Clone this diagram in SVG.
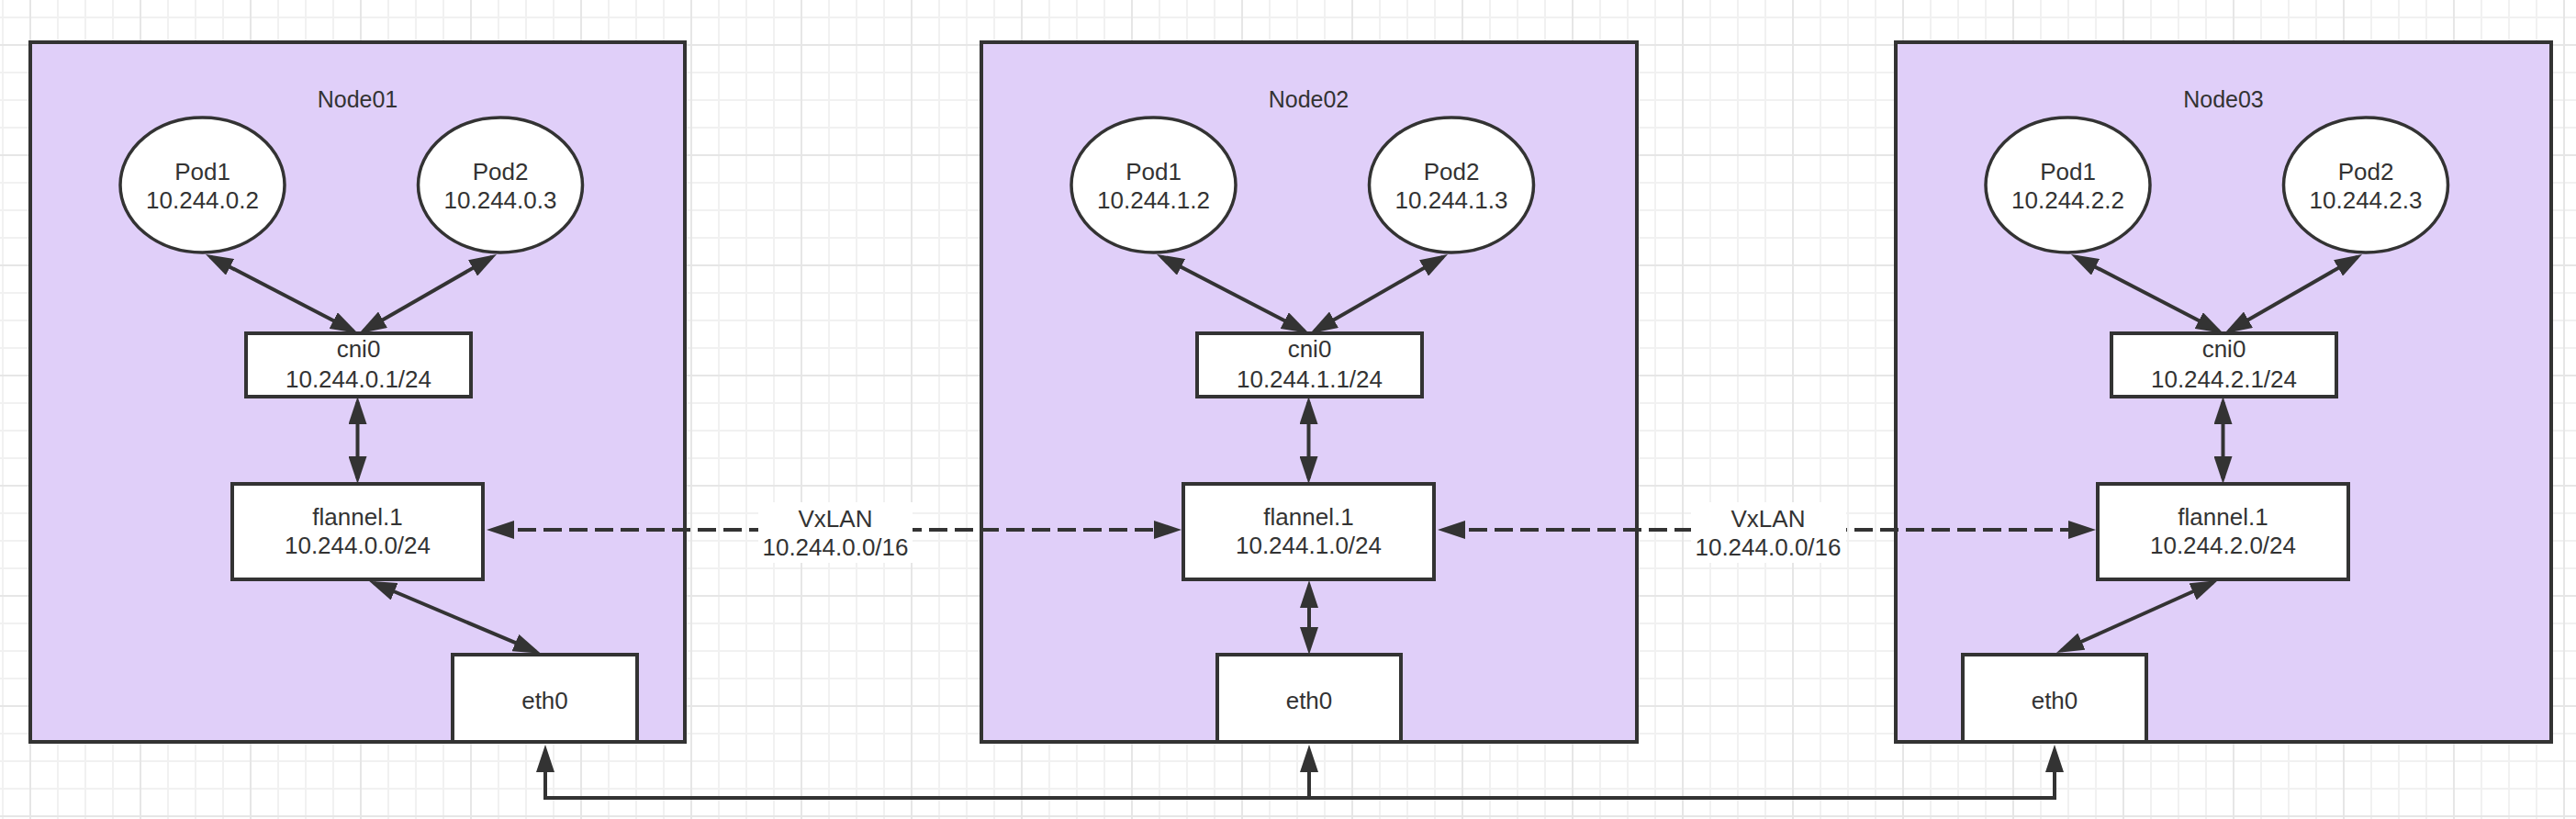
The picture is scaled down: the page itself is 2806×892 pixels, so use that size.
<svg xmlns="http://www.w3.org/2000/svg" width="2806" height="892" viewBox="0 0 2806 892">
  <defs>
    <pattern id="grid" patternUnits="userSpaceOnUse" x="32" y="48" width="120" height="120">
      <rect x="30" y="0" width="2" height="120" fill="#f1f1f1"/>
      <rect x="60" y="0" width="2" height="120" fill="#f1f1f1"/>
      <rect x="90" y="0" width="2" height="120" fill="#f1f1f1"/>
      <rect x="0" y="30" width="120" height="2" fill="#f1f1f1"/>
      <rect x="0" y="60" width="120" height="2" fill="#f1f1f1"/>
      <rect x="0" y="90" width="120" height="2" fill="#f1f1f1"/>
      <rect x="0" y="0" width="2" height="120" fill="#e6e6e6"/>
      <rect x="0" y="0" width="120" height="2" fill="#e6e6e6"/>
    </pattern>
    <marker id="arr" viewBox="0 0 30 20" markerWidth="30" markerHeight="20" markerUnits="userSpaceOnUse" refX="24" refY="10" orient="auto-start-reverse">
      <path d="M0,0 L30,10 L0,20 Z" fill="#333"/>
    </marker>
    <style>
      .node { fill: #e0cff9; stroke: #333; stroke-width: 4; }
      .box { fill: #fff; stroke: #333; stroke-width: 4; }
      .pod { fill: #fff; stroke: #333; stroke-width: 3.5; }
      text { font-family: "Liberation Sans", Arial, sans-serif; font-size: 26px; fill: #333; text-anchor: middle; }
      .title { font-size: 25px; }
      .conn { fill: none; stroke: #333; stroke-width: 4; }
      .dash { stroke-dasharray: 20 8; }
      .lblbg { fill: #fff; }
    </style>
  </defs>

  <rect x="0" y="0" width="2806" height="892" fill="#fff"/>
  <rect x="0" y="0" width="2806" height="892" fill="url(#grid)"/>

  <g id="node01">
    <rect class="node" x="33" y="46" width="713" height="762"/>
    <text class="title" x="389.5" y="117">Node01</text>
  </g>
  <g id="node02">
    <rect class="node" x="1069" y="46" width="714" height="762"/>
    <text class="title" x="1425.5" y="117">Node02</text>
  </g>
  <g id="node03">
    <rect class="node" x="2065" y="46" width="714" height="762"/>
    <text class="title" x="2422" y="117">Node03</text>
  </g>

  <g id="n01-pod1"><ellipse class="pod" cx="220.5" cy="201.5" rx="89.5" ry="73.5"/><text x="220.5" y="196">Pod1</text><text x="220.5" y="227">10.244.0.2</text></g>
  <g id="n01-pod2"><ellipse class="pod" cx="545" cy="201.5" rx="89.5" ry="73.5"/><text x="545" y="196">Pod2</text><text x="545" y="227">10.244.0.3</text></g>
  <g id="n01-cni0"><rect class="box" x="268" y="363" width="245" height="69"/><text x="390.5" y="389">cni0</text><text x="390.5" y="422">10.244.0.1/24</text></g>
  <g id="n01-flannel"><rect class="box" x="253" y="527" width="273" height="104"/><text x="389.5" y="572">flannel.1</text><text x="389.5" y="603">10.244.0.0/24</text></g>
  <g id="n01-eth0"><rect class="box" x="493" y="713" width="201" height="95"/><text x="593.5" y="772">eth0</text></g>

  <g id="n02-pod1"><ellipse class="pod" cx="1256.5" cy="201.5" rx="89.5" ry="73.5"/><text x="1256.5" y="196">Pod1</text><text x="1256.5" y="227">10.244.1.2</text></g>
  <g id="n02-pod2"><ellipse class="pod" cx="1581" cy="201.5" rx="89.5" ry="73.5"/><text x="1581" y="196">Pod2</text><text x="1581" y="227">10.244.1.3</text></g>
  <g id="n02-cni0"><rect class="box" x="1304" y="363" width="245" height="69"/><text x="1426.5" y="389">cni0</text><text x="1426.5" y="422">10.244.1.1/24</text></g>
  <g id="n02-flannel"><rect class="box" x="1289" y="527" width="273" height="104"/><text x="1425.5" y="572">flannel.1</text><text x="1425.5" y="603">10.244.1.0/24</text></g>
  <g id="n02-eth0"><rect class="box" x="1326" y="713" width="200" height="95"/><text x="1426" y="772">eth0</text></g>

  <g id="n03-pod1"><ellipse class="pod" cx="2252.5" cy="201.5" rx="89.5" ry="73.5"/><text x="2252.5" y="196">Pod1</text><text x="2252.5" y="227">10.244.2.2</text></g>
  <g id="n03-pod2"><ellipse class="pod" cx="2577" cy="201.5" rx="89.5" ry="73.5"/><text x="2577" y="196">Pod2</text><text x="2577" y="227">10.244.2.3</text></g>
  <g id="n03-cni0"><rect class="box" x="2300" y="363" width="245" height="69"/><text x="2422.5" y="389">cni0</text><text x="2422.5" y="422">10.244.2.1/24</text></g>
  <g id="n03-flannel"><rect class="box" x="2285" y="527" width="273" height="104"/><text x="2421.5" y="572">flannel.1</text><text x="2421.5" y="603">10.244.2.0/24</text></g>
  <g id="n03-eth0"><rect class="box" x="2138" y="713" width="200" height="95"/><text x="2238" y="772">eth0</text></g>

  <g id="connectors">
    <path class="conn" d="M229.3,279.8 L384.5,360.2" marker-start="url(#arr)" marker-end="url(#arr)"/>
    <path class="conn" d="M535.8,280 L396.2,360.2" marker-start="url(#arr)" marker-end="url(#arr)"/>
    <path class="conn" d="M389.5,438 V521" marker-start="url(#arr)" marker-end="url(#arr)"/>
    <path class="conn" d="M407.5,635 L583.5,709.4" marker-start="url(#arr)" marker-end="url(#arr)"/>

    <path class="conn" d="M1265.3,279.8 L1420.5,360.2" marker-start="url(#arr)" marker-end="url(#arr)"/>
    <path class="conn" d="M1571.8,280 L1432.2,360.2" marker-start="url(#arr)" marker-end="url(#arr)"/>
    <path class="conn" d="M1425.5,438 V521" marker-start="url(#arr)" marker-end="url(#arr)"/>
    <path class="conn" d="M1426,638 V707" marker-start="url(#arr)" marker-end="url(#arr)"/>

    <path class="conn" d="M2261.3,279.8 L2416.5,360.2" marker-start="url(#arr)" marker-end="url(#arr)"/>
    <path class="conn" d="M2567.8,280 L2428.2,360.2" marker-start="url(#arr)" marker-end="url(#arr)"/>
    <path class="conn" d="M2421.5,438 V521" marker-start="url(#arr)" marker-end="url(#arr)"/>
    <path class="conn" d="M2410.5,634.5 L2245.5,708.5" marker-start="url(#arr)" marker-end="url(#arr)"/>

    <path class="conn dash" d="M536,577 H1281" marker-start="url(#arr)" marker-end="url(#arr)"/>
    <path class="conn dash" d="M1572,577 H2277" marker-start="url(#arr)" marker-end="url(#arr)"/>

    <path class="conn" d="M594,817 V869 H2238 V817" marker-start="url(#arr)" marker-end="url(#arr)"/>
    <path class="conn" d="M1426,869 V817" marker-end="url(#arr)"/>

    <g id="vxlan-label-1">
      <rect class="lblbg" x="826" y="547" width="168" height="66"/>
      <text x="910" y="574">VxLAN</text>
      <text x="910" y="605">10.244.0.0/16</text>
    </g>
    <g id="vxlan-label-2">
      <rect class="lblbg" x="1842" y="547" width="169" height="66"/>
      <text x="1926" y="574">VxLAN</text>
      <text x="1926" y="605">10.244.0.0/16</text>
    </g>
  </g>
</svg>
